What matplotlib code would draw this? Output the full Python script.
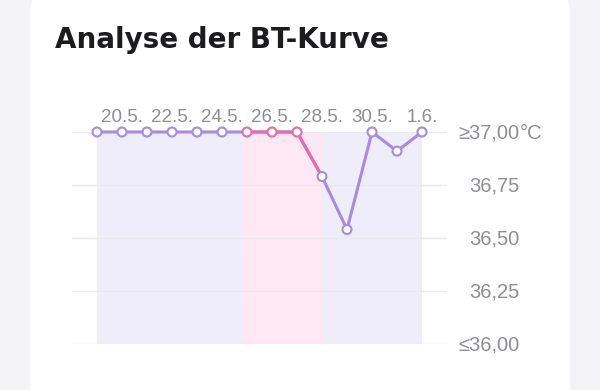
import matplotlib
matplotlib.use("Agg")
import matplotlib.pyplot as plt
from matplotlib.patches import FancyBboxPatch, Rectangle

# data
days = ['19.5.', '20.5.', '21.5.', '22.5.', '23.5.', '24.5.', '25.5.',
        '26.5.', '27.5.', '28.5.', '29.5.', '30.5.', '31.5.', '1.6.']
temps = [37.00, 37.00, 37.00, 37.00, 37.00, 37.00, 37.00,
         37.00, 37.00, 36.79, 36.54, 37.00, 36.91, 37.00]
y_ticks = [37.00, 36.75, 36.50, 36.25, 36.00]
y_labels = ['\u226537,00', '36,75', '36,50', '36,25', '\u226436,00']
fertile_start = 5.8   # pink window, in day index
fertile_end = 8.95

purple = '#a58be2'
pink = '#ec6aa9'
gray = '#8e8e93'

plt.rcParams['font.family'] = ['Liberation Sans', 'DejaVu Sans']

fig = plt.figure(figsize=(6, 3.9), dpi=100)
fig.patch.set_facecolor('#f3f3f8')

# card in pixel coordinates
bg = fig.add_axes([0, 0, 1, 1])
bg.set_xlim(0, 600)
bg.set_ylim(390, 0)
bg.axis('off')
bg.add_patch(FancyBboxPatch((30, -8), 540, 440,
                            boxstyle='round,pad=0,rounding_size=20',
                            fc='white', ec='none'))
bg.text(55, 48, 'Analyse der BT-Kurve', fontsize=20, fontweight='bold',
        color='#1c1c1e', family=['DejaVu Sans'], va='baseline')

ax = fig.add_axes([72 / 600, 1 - 344 / 390, 375 / 600, 212 / 390])
ax.set_xlim(-1, len(days))
ax.set_ylim(36.0, 37.0)
ax.axis('off')

x = list(range(len(days)))

# shaded background
ax.add_patch(Rectangle((0, 36.0), len(days) - 1, 1.0, fc='#f0edfb', ec='none', zorder=0))
pink_box = Rectangle((fertile_start, 36.0), fertile_end - fertile_start, 1.0,
                     fc='#fde8f4', ec='none', zorder=0.5)
ax.add_patch(pink_box)

for t in y_ticks:
    ax.axhline(t, color='#e9e9ef', lw=1, zorder=1)

# line: purple everywhere, pink inside the window
ax.plot(x, temps, color=purple, lw=2.2, zorder=2, clip_on=False)
pink_line, = ax.plot(x, temps, color=pink, lw=2.2, zorder=2.5)
clip = Rectangle((fertile_start, 35.5), fertile_end - fertile_start, 2.0, transform=ax.transData)
pink_line.set_clip_path(clip)

edge = [pink if fertile_start <= i <= fertile_end else purple for i in x]
ax.scatter(x, temps, s=42, facecolor='white', edgecolor=edge, linewidths=1.5,
           zorder=3, clip_on=False)

# date labels above the plot, every second day
for i in range(1, len(days), 2):
    ax.annotate(days[i], xy=(i, 1), xycoords=('data', 'axes fraction'),
                xytext=(0, 7), textcoords='offset points', ha='center',
                va='baseline', fontsize=13.5, color=gray)

# temperature labels on the right
for t, lab in zip(y_ticks, y_labels):
    ax.annotate(lab, xy=(1, t), xycoords=('axes fraction', 'data'),
                xytext=(52.5, -5), textcoords='offset points', ha='right',
                va='baseline', fontsize=14.5, color=gray)
ax.annotate('\u00b0C', xy=(1, y_ticks[0]), xycoords=('axes fraction', 'data'),
            xytext=(52.5, -5), textcoords='offset points', ha='left',
            va='baseline', fontsize=14.5, color=gray)

plt.savefig('out.png', dpi=100)
